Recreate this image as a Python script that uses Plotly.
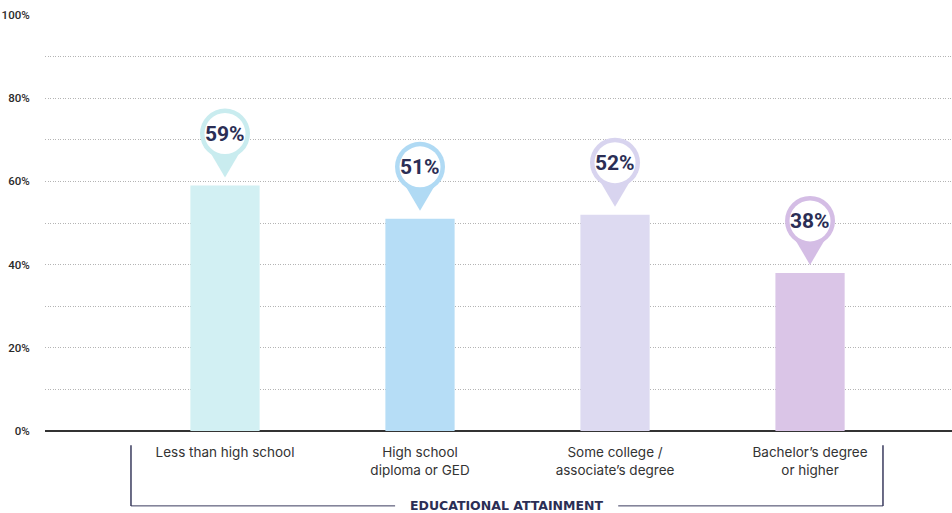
import plotly.graph_objects as go

categories = ["Less than high school", "High school<br>diploma or GED",
              "Some college /<br>associate\u2019s degree", "Bachelor\u2019s degree<br>or higher"]
values = [59, 51, 52, 38]
labels = ["59%", "51%", "52%", "38%"]
bar_colors = ["#d2f0f3", "#b6ddf6", "#dddaf1", "#dac5e7"]
pin_colors = ["#c9ecef", "#b0daf4", "#d8d4ef", "#d4bde5"]
ytick_vals = [0, 20, 40, 60, 80, 100]
ytick_text = ["0%", "20%", "40%", "60%", "80%", "100%"]
axis_title = "EDUCATIONAL ATTAINMENT"

xpos = list(range(len(categories)))
navy = "#2b2e55"
num_font = "Roboto, sans-serif"

fig = go.Figure()
fig.add_trace(go.Bar(x=xpos, y=values, marker=dict(color=bar_colors, line=dict(width=0)),
                     width=0.355, hoverinfo="skip"))

shapes = []
annotations = []
for i, v in enumerate(values):
    c = pin_colors[i]
    shapes.append(dict(type="path", xref="x", yref="y", xsizemode="pixel", ysizemode="pixel",
                       xanchor=i, yanchor=v, path="M -20,42 L 0,8 L 20,42 Z",
                       fillcolor=c, line=dict(width=0), layer="above"))
    shapes.append(dict(type="circle", xref="x", yref="y", xsizemode="pixel", ysizemode="pixel",
                       xanchor=i, yanchor=v, x0=-25, x1=25, y0=27, y1=77,
                       fillcolor=c, line=dict(width=0), layer="above"))
    shapes.append(dict(type="circle", xref="x", yref="y", xsizemode="pixel", ysizemode="pixel",
                       xanchor=i, yanchor=v, x0=-20.5, x1=20.5, y0=31.5, y1=72.5,
                       fillcolor="white", line=dict(width=0), layer="above"))
    annotations.append(dict(x=i, y=v, xref="x", yref="y", yshift=52, text="<b>%s</b>" % labels[i],
                            showarrow=False, font=dict(family=num_font, size=21, color=navy)))

lc = "#3a3b5e"
yb = -0.18
shapes += [
    dict(type="line", xref="paper", yref="paper", x0=0.0948, x1=0.0948, y0=-0.034, y1=yb,
         line=dict(color=lc, width=1.5)),
    dict(type="line", xref="paper", yref="paper", x0=0.0948, x1=0.386, y0=yb, y1=yb,
         line=dict(color=lc, width=1)),
    dict(type="line", xref="paper", yref="paper", x0=0.632, x1=0.9239, y0=yb, y1=yb,
         line=dict(color=lc, width=1)),
    dict(type="line", xref="paper", yref="paper", x0=0.9239, x1=0.9239, y0=-0.034, y1=yb,
         line=dict(color=lc, width=1.5)),
]
annotations.append(dict(x=0.509, y=yb, xref="paper", yref="paper", text="<b>%s</b>" % axis_title,
                        showarrow=False, yanchor="middle",
                        font=dict(family="DejaVu Sans, sans-serif", size=12.5, color=navy)))

fig.update_layout(
    width=952, height=513,
    margin=dict(l=45, r=0, t=15, b=82),
    plot_bgcolor="white", paper_bgcolor="white",
    showlegend=False,
    shapes=shapes, annotations=annotations,
    xaxis=dict(range=[-0.923, 3.728], tickvals=xpos, ticktext=categories,
               showgrid=False, zeroline=False, showline=False,
               ticks="outside", ticklen=9, tickcolor="rgba(0,0,0,0)",
               tickfont=dict(family="Inter, Lato, sans-serif", size=13.5, color="#333333")),
    yaxis=dict(range=[0, 100], tickvals=list(range(0, 101, 10)),
               ticktext=[ytick_text[ytick_vals.index(t)] if t in ytick_vals else "" for t in range(0, 101, 10)],
               showgrid=True, gridcolor="#b4b4b4", griddash="1px,1.5px", gridwidth=1,
               zeroline=True, zerolinecolor="#333333", zerolinewidth=1.5,
               ticks="outside", ticklen=12, tickcolor="rgba(0,0,0,0)",
               tickfont=dict(family=num_font, size=11.5, color="#2a2a2a", weight=500), fixedrange=True),
)

fig.write_html("out.html", config={"displayModeBar": False},
               post_script="document.body.style.margin='0';")
